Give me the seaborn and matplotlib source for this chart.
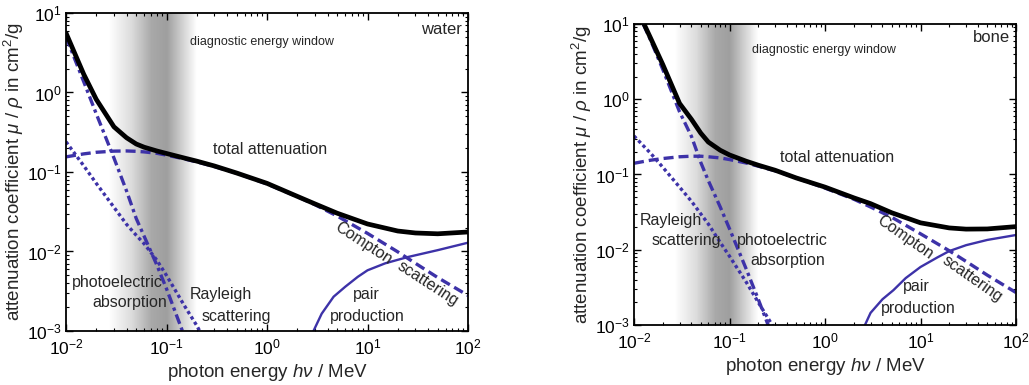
import numpy as np
import matplotlib
matplotlib.use("Agg")
import matplotlib.pyplot as plt
import seaborn as sns

sns.set_style("ticks")
plt.rcParams['font.family'] = ['Liberation Sans', 'DejaVu Sans']
plt.rcParams['mathtext.fontset'] = 'custom'
plt.rcParams['mathtext.rm'] = 'Liberation Sans'
plt.rcParams['mathtext.it'] = 'Liberation Sans:italic'
plt.rcParams['mathtext.default'] = 'regular'

# ---- water (MeV, cm^2/g) ----
water_total_E = [0.01, 0.015, 0.02, 0.03, 0.04, 0.05, 0.06, 0.08, 0.1, 0.15, 0.2, 0.3, 0.5, 1, 2, 3, 5, 10, 20, 30, 50, 100]
water_total = [5.6, 1.7, 0.82, 0.37, 0.27, 0.225, 0.205, 0.184, 0.171, 0.150, 0.137, 0.119, 0.097, 0.072, 0.0494, 0.0397, 0.0303, 0.0222, 0.0181, 0.0171, 0.0167, 0.0176]
water_compton_E = [0.01, 0.015, 0.02, 0.03, 0.04, 0.05, 0.06, 0.08, 0.1, 0.15, 0.2, 0.3, 0.5, 1, 2, 3, 5, 10, 20, 30, 50, 100]
water_compton = [0.155, 0.169, 0.177, 0.183, 0.184, 0.182, 0.179, 0.172, 0.163, 0.146, 0.134, 0.117, 0.0966, 0.0707, 0.049, 0.0388, 0.0279, 0.0169, 0.0099, 0.0071, 0.0047, 0.0028]
water_photo_E = [0.01, 0.015, 0.02, 0.03, 0.04, 0.05, 0.06, 0.08, 0.1, 0.14, 0.16]
water_photo = [5.0, 1.37, 0.54, 0.15, 0.058, 0.026, 0.0155, 0.0068, 0.0034, 0.0011, 0.0007]
water_rayleigh_E = [0.01, 0.015, 0.02, 0.03, 0.04, 0.05, 0.06, 0.08, 0.1, 0.15, 0.2, 0.25]
water_rayleigh = [0.24, 0.12, 0.072, 0.036, 0.022, 0.016, 0.0125, 0.0078, 0.005, 0.0021, 0.00117, 0.0007]
water_pair_E = [2.8, 2.9, 3.5, 4.6, 6, 8, 10, 15, 25, 50, 100]
water_pair = [0.00085, 0.001, 0.00165, 0.0027, 0.0036, 0.0048, 0.0058, 0.0071, 0.0085, 0.0104, 0.0129]

# ---- bone ----
bone_total_E = [0.0125, 0.015, 0.02, 0.03, 0.04, 0.05, 0.06, 0.08, 0.1, 0.15, 0.2, 0.3, 0.5, 1, 2, 3, 5, 10, 20, 30, 50, 100]
bone_total = [10.5, 6.4, 2.9, 0.88, 0.54, 0.355, 0.27, 0.21, 0.182, 0.150, 0.133, 0.114, 0.09, 0.068, 0.049, 0.041, 0.031, 0.0228, 0.0195, 0.0188, 0.0189, 0.0203]
bone_compton_E = [0.01, 0.015, 0.02, 0.03, 0.04, 0.05, 0.06, 0.08, 0.1, 0.15, 0.2, 0.3, 0.5, 1, 2, 3, 5, 10, 20, 30, 50, 100]
bone_compton = [0.141, 0.155, 0.163, 0.172, 0.175, 0.175, 0.172, 0.166, 0.158, 0.142, 0.129, 0.112, 0.090, 0.066, 0.047, 0.037, 0.027, 0.0163, 0.0097, 0.0070, 0.0046, 0.0027]
bone_photo_E = [0.0125, 0.015, 0.02, 0.03, 0.04, 0.05, 0.06, 0.08, 0.1, 0.15, 0.2, 0.25, 0.3]
bone_photo = [10.0, 6.0, 2.5, 0.68, 0.32, 0.145, 0.083, 0.037, 0.019, 0.0055, 0.0022, 0.00105, 0.0006]
bone_rayleigh_E = [0.01, 0.015, 0.02, 0.03, 0.04, 0.05, 0.06, 0.08, 0.1, 0.15, 0.2, 0.28, 0.32]
bone_rayleigh = [0.325, 0.19, 0.125, 0.068, 0.044, 0.03, 0.022, 0.0125, 0.0082, 0.0037, 0.002, 0.001, 0.00075]
bone_pair_E = [2.55, 2.62, 3, 4, 5.2, 7, 10, 15, 20, 30, 50, 100]
bone_pair = [0.0009, 0.001, 0.00145, 0.0022, 0.0029, 0.0042, 0.0059, 0.0079, 0.0096, 0.0115, 0.0135, 0.0157]

# diagnostic window shading (log10 E stops, gray level)
band_logE = [-1.58, -1.35, -1.15, -1.0, -0.86, -0.7]
band_gray = [1.0, 0.86, 0.66, 0.62, 0.8, 1.0]

blue = '#3d32a8'
W, H = 1029, 385


def panel(ax, total, compton, photo, rayleigh, pair):
    lx = np.linspace(-2, 2, 801)
    shade = np.interp(lx, band_logE, band_gray)
    ax.pcolormesh(10 ** lx, [1e-3, 1e1], shade[None, :-1], cmap='gray',
                  vmin=0, vmax=1, shading='flat', zorder=0, rasterized=True)
    sns.lineplot(x=pair[0], y=pair[1], ax=ax, color=blue, lw=1.7, sort=False, estimator=None)
    sns.lineplot(x=rayleigh[0], y=rayleigh[1], ax=ax, color=blue, lw=2.4,
                 linestyle=(0, (1, 0.9)), sort=False, estimator=None)
    sns.lineplot(x=photo[0], y=photo[1], ax=ax, color=blue, lw=2.4,
                 linestyle=(0, (3, 1.2, 1, 1.2)), sort=False, estimator=None)
    sns.lineplot(x=compton[0], y=compton[1], ax=ax, color=blue, lw=2.4,
                 linestyle=(0, (3, 1.5)), sort=False, estimator=None)
    sns.lineplot(x=total[0], y=total[1], ax=ax, color='black', lw=3.4, sort=False, estimator=None)
    ax.set_xscale('log')
    ax.set_yscale('log')
    ax.set_xlim(1e-2, 1e2)
    ax.set_ylim(1e-3, 1e1)
    ax.tick_params(which='both', direction='in', top=True, right=True, labelsize=12.5, colors='black')
    ax.tick_params(axis='x', which='major', pad=5)
    ax.tick_params(axis='y', which='major', pad=3)
    ax.tick_params(which='major', length=5, width=1)
    ax.tick_params(which='minor', length=2.5, width=0.8)
    for s in ax.spines.values():
        s.set_linewidth(1.3)
        s.set_color('black')
    ax.set_xlabel(r'photon energy $\mathit{h\nu}$ / MeV', fontsize=13.5, labelpad=3)
    ax.set_ylabel(r'attenuation coefficient $\mathit{\mu}$ / $\mathit{\rho}$ in cm$^2$/g', fontsize=13.5, labelpad=1)


fig = plt.figure(figsize=(W / 100, H / 100), dpi=100)
ax1 = fig.add_axes([66 / W, 1 - 331 / H, 402 / W, 318 / H])
ax2 = fig.add_axes([634 / W, 1 - 325 / H, 382 / W, 301 / H])

panel(ax1, (water_total_E, water_total), (water_compton_E, water_compton),
      (water_photo_E, water_photo), (water_rayleigh_E, water_rayleigh), (water_pair_E, water_pair))
panel(ax2, (bone_total_E, bone_total), (bone_compton_E, bone_compton),
      (bone_photo_E, bone_photo), (bone_rayleigh_E, bone_rayleigh), (bone_pair_E, bone_pair))


def label(x, y, s, size=11, **kw):
    fig.text(x / W, 1 - y / H, s, fontsize=size, va='center', **kw)


# water panel
label(462, 30, 'water', 12, ha='right')
label(190, 42, 'diagnostic energy window', 9)
label(213, 150, 'total attenuation', 11.5)
label(72, 282, 'photoelectric', 11.5)
label(92, 303, 'absorption', 11.5)
label(190, 295, 'Rayleigh', 11.5)
label(202, 317, 'scattering', 11.5)
label(366, 295, 'pair', 11.5, ha='center')
label(367, 317, 'production', 11.5, ha='center')
label(363, 243, 'Compton', 11.5, ha='center', rotation=-33, rotation_mode='anchor')
label(428, 284, 'scattering', 11.5, ha='center', rotation=-33, rotation_mode='anchor')

# bone panel
label(1010, 38, 'bone', 12, ha='right')
label(752, 50, 'diagnostic energy window', 9)
label(780, 158, 'total attenuation', 11.5)
label(640, 220, 'Rayleigh', 11.5)
label(652, 240, 'scattering', 11.5)
label(737, 240, 'photoelectric', 11.5)
label(750, 260, 'absorption', 11.5)
label(916, 287, 'pair', 11.5, ha='center')
label(918, 308, 'production', 11.5, ha='center')
label(905, 237, 'Compton', 11.5, ha='center', rotation=-35, rotation_mode='anchor')
label(972, 279, 'scattering', 11.5, ha='center', rotation=-35, rotation_mode='anchor')

fig.savefig('out.png', dpi=100)
